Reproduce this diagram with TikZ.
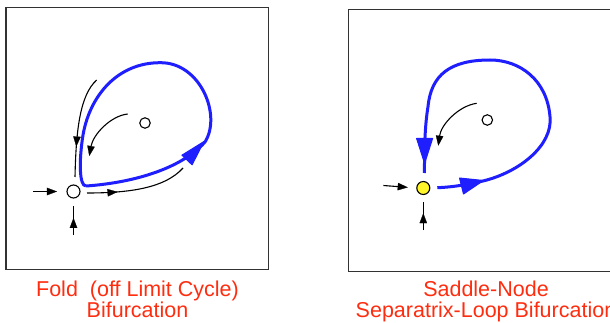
\documentclass[tikz,border=0pt]{standalone}
\usepackage{fontspec}
\setmainfont{Liberation Sans}
\usetikzlibrary{arrows.meta,decorations.markings}
\definecolor{loopblue}{RGB}{30,30,255}
\definecolor{labred}{RGB}{255,45,15}
\definecolor{nodeyellow}{RGB}{255,245,40}
\definecolor{framegray}{RGB}{50,50,50}
\tikzset{
  flowtip/.tip={Triangle[length=10pt,width=7.5pt,line width=0.2pt]},
  frame/.style={draw=framegray, line width=1.1pt},
  flow/.style={draw=black, line width=1.1pt},
  orbit/.style={draw=loopblue, line width=3pt},
  orbithead/.style={fill=loopblue, draw=loopblue, line width=1pt, line join=round},
  fixpt/.style={circle, draw=black, line width=1.1pt, fill=white, inner sep=0pt, minimum size=13pt},
  focus/.style={fixpt, minimum size=10.5pt},
  midarrow/.style={postaction={decorate}, decoration={markings, mark=at position #1 with {\arrow{flowtip}}}},
  lbl/.style={text=labred, font=\fontsize{21.5}{22}\selectfont, anchor=base, inner sep=0pt}
}
\begin{document}
\begin{tikzpicture}[x=1pt,y=-1pt]
\useasboundingbox (0,0) rectangle (610,323);
\clip (0,0) rectangle (610,323);
\fill[white] (0,0) rectangle (610,323);

% frames
\draw[frame] (6,7.3) rectangle (268.7,269.3);
\draw[frame] (348.3,9.3) rectangle (612,271.7);

% ---------- left panel ----------
% blue limit cycle with its arrowhead
\draw[orbit] (86,186) .. controls (130,183) and (180,170) .. (205,142)
   .. controls (222,115) and (200,62) .. (160,62.7)
   .. controls (118,62.7) and (90,95) .. (83,135)
   .. controls (79,160) and (79,186) .. (86,186);
\filldraw[orbithead] (204,141.5) -- (192.1,164.8) -- (181.9,155.2) -- cycle;

\node[fixpt] (sadA) at (73.5,191.5) {};
\node[focus] (focA) at (145,123) {};

\coordinate (inA) at (33,191.5);
\draw[flow, -{flowtip}, shorten >=9.5pt] (inA) -- (sadA.west);
\coordinate (inB) at (73.5,235);
\coordinate (inBend) at (73.5,206);
\draw[flow, midarrow=0.59] (inB) -- (inBend);
\coordinate (outA0) at (87,193);
\coordinate (outA1) at (183,168);
\draw[flow, midarrow=0.3] (outA0) .. controls (130,193) and (165,188) .. (outA1);
\coordinate (topA0) at (96.7,80);
\coordinate (topA1) at (75,177);
\draw[flow, midarrow=0.7] (topA0) .. controls (80,95) and (76,130) .. (topA1);
\coordinate (spA0) at (127.7,114);
\coordinate (spA1) at (89.3,156);
\draw[flow, -{flowtip}] (spA0) .. controls (110,116) and (93,135) .. (spA1);

% ---------- right panel ----------
\draw[orbit] (437.3,187.7) .. controls (455,187) and (470,184) .. (483,181)
   .. controls (520,172) and (553,145) .. (550,116.7)
   .. controls (547,80) and (520,60) .. (490,60)
   .. controls (450,60) and (431,75) .. (428,106.7)
   .. controls (425,125) and (424.5,145) .. (424.5,163) -- (424.3,173);
\filldraw[orbithead] (483.5,180.5) -- (463.5,194) -- (459.5,178) -- cycle;
\filldraw[orbithead] (424.6,163.5) -- (416.6,138.5) -- (432.6,138.5) -- cycle;

\node[fixpt, fill=nodeyellow] (sadB) at (423.3,188) {};
\node[focus] (focB) at (487.3,120) {};

\coordinate (inC) at (383.3,185.5);
\draw[flow, -{flowtip}, shorten >=8.5pt] (inC) -- (sadB.west);
\coordinate (inD) at (423.3,230);
\coordinate (inDend) at (423.3,202);
\draw[flow, midarrow=0.6] (inD) -- (inDend);
\coordinate (spB0) at (476.7,103.3);
\coordinate (spB1) at (438.3,145.7);
\draw[flow, -{flowtip}] (spB0) .. controls (458,106) and (441,125) .. (spB1);

% ---------- captions ----------
\node[lbl] (capA1) at (137.5,296) {Fold\ \ (off Limit Cycle)};
\node[lbl] (capA2) at (137.5,317.5) {Bifurcation};
\node[lbl] (capB1) at (486,296) {Saddle-Node};
\node[lbl] (capB2) at (486,317.5) {Separatrix-Loop Bifurcation};
\end{tikzpicture}
\end{document}
